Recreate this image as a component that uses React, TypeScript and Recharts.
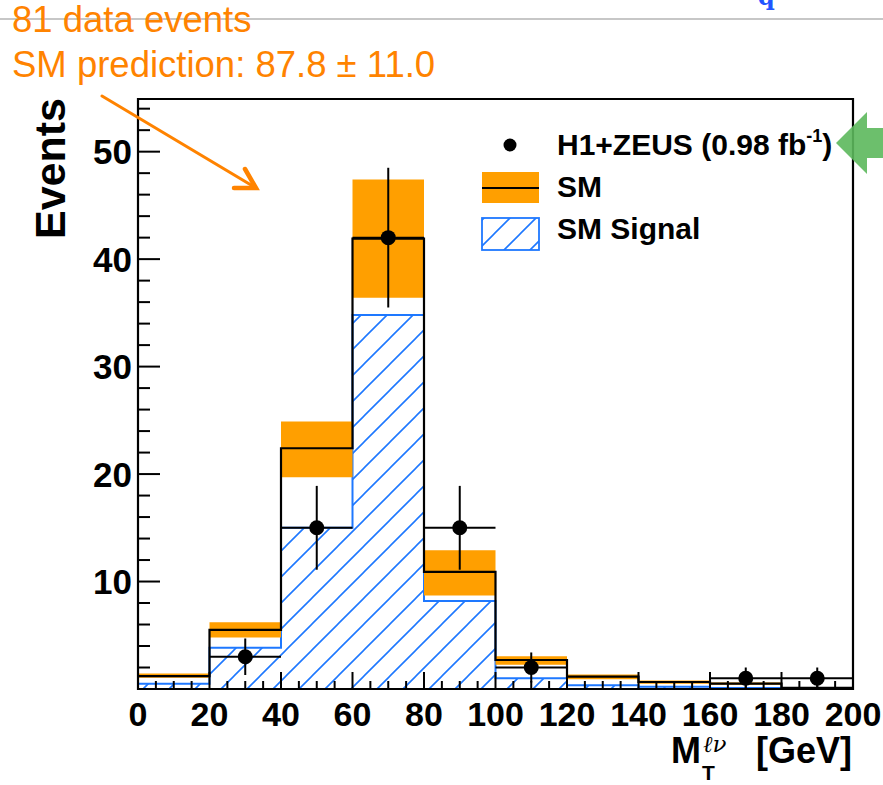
import React from 'react';
import {
  ComposedChart,
  Area,
  Line,
  Scatter,
  ErrorBar,
  XAxis,
  YAxis,
  ReferenceArea,
} from 'recharts';

// M_T(l nu) histogram, 20 GeV bins
const binEdges = [0, 20, 40, 60, 80, 100, 120, 140, 160, 180, 200];
const binCenters = [10, 30, 50, 70, 90, 110, 130, 150, 170, 190];
const smTotal = [1.2, 5.5, 22.4, 41.9, 10.9, 2.7, 1.15, 0.65, 0.5, 0.1];
const smBandLow = [1.05, 4.8, 19.7, 36.4, 8.7, 2.25, 0.9, 0.5, 0.4, 0.05];
const smBandHigh = [1.45, 6.2, 24.9, 47.4, 12.9, 3.05, 1.35, 0.8, 0.6, 0.15];
const smSignal = [0.5, 3.85, 15.0, 34.8, 8.2, 1.0, 0.35, 0.2, 0.1, 0.05];
const dataEvents = [0, 3, 15, 42, 15, 2, 0, 0, 1, 1];
const dataErr = [0, 1.7, 3.9, 6.5, 3.9, 1.4, 0, 0, 1.0, 1.0];
const binHalfWidth = 10;

const xMajorTicks = [0, 20, 40, 60, 80, 100, 120, 140, 160, 180, 200];
const xMinorTicks = [
  0, 5, 10, 15, 20, 25, 30, 35, 40, 45, 50, 55, 60, 65, 70, 75, 80, 85, 90, 95, 100,
  105, 110, 115, 120, 125, 130, 135, 140, 145, 150, 155, 160, 165, 170, 175, 180, 185,
  190, 195, 200,
];
const yMajorTicks = [10, 20, 30, 40, 50];
const yMinorTicks = [
  0, 2, 4, 6, 8, 10, 12, 14, 16, 18, 20, 22, 24, 26, 28, 30, 32, 34, 36, 38, 40, 42,
  44, 46, 48, 50, 52, 54,
];
const yMax = 54.9;

const ORANGE = '#ff9f00';
const BLUE = '#1e78ff';
const NOTE = '#ff8300';
const FONT = '"Liberation Sans", Arial, Helvetica, sans-serif';

// step rows: one per bin edge, last edge repeats the last bin
const stepRows = binEdges.map((x, i) => {
  const k = Math.min(i, smTotal.length - 1);
  return { x, sm: smTotal[k], band: [smBandLow[k], smBandHigh[k]], sig: smSignal[k] };
});

const points = binCenters
  .map((x, i) => ({ x, y: dataEvents[i], ey: dataErr[i], ex: binHalfWidth }))
  .filter((p) => p.y > 0);

const XTick = (props: any) => {
  const { x, y, payload } = props;
  const major = xMajorTicks.includes(payload.value);
  return (
    <g>
      <line x1={x} x2={x} y1={y} y2={y - (major ? 17 : 8)} stroke="#000" strokeWidth={2} />
      {major && (
        <text x={x} y={y + 37} textAnchor="middle" fontSize={34} fontWeight="bold" fontFamily={FONT} fill="#000">
          {payload.value}
        </text>
      )}
    </g>
  );
};

const YTick = (props: any) => {
  const { x, y, payload } = props;
  const major = yMajorTicks.includes(payload.value);
  return (
    <g>
      <line x1={x} x2={x + (major ? 22 : 12)} y1={y} y2={y} stroke="#000" strokeWidth={2} />
      {major && (
        <text x={x - 6} y={y} dy="0.36em" textAnchor="end" fontSize={35} fontWeight="bold" fontFamily={FONT} fill="#000">
          {payload.value}
        </text>
      )}
    </g>
  );
};

const Dot = (props: any) => <circle cx={props.cx} cy={props.cy} r={7.5} fill="#000" />;

export default function App() {
  return (
    <div style={{ position: 'absolute', left: 0, top: 0, width: 883, height: 785, background: '#fff', fontFamily: FONT }}>
      <svg width={0} height={0} style={{ position: 'absolute' }}>
        <defs>
          <pattern id="hatch" patternUnits="userSpaceOnUse" width={26} height={26}>
            <path d="M0,26 L26,0 M-6,6 L6,-6 M20,32 L32,20" stroke={BLUE} strokeWidth={1.6} />
          </pattern>
        </defs>
      </svg>

      <svg width={883} height={785} style={{ position: 'absolute', left: 0, top: 0 }}>
        <line x1={0} x2={883} y1={19} y2={19} stroke="#b5b5b5" strokeWidth={1.5} />
        <text x={758} y={5} fontSize={24} fontWeight="bold" fontFamily="'DejaVu Serif', serif" fill="#2255ff">q</text>
      </svg>

      <div style={{ position: 'absolute', left: 0, top: 0 }}>
        <ComposedChart width={883} height={785} margin={{ top: 99, right: 30, bottom: 36, left: 78 }}>
          <XAxis
            dataKey="x"
            type="number"
            domain={[0, 200]}
            ticks={xMinorTicks}
            interval={0}
            allowDataOverflow
            axisLine={false}
            tickLine={false}
            tickSize={0}
            tickMargin={0}
            height={60}
            tick={<XTick />}
          />
          <YAxis
            type="number"
            domain={[0, yMax]}
            ticks={yMinorTicks}
            interval={0}
            allowDataOverflow
            axisLine={false}
            tickLine={false}
            tickSize={0}
            tickMargin={0}
            width={60}
            tick={<YTick />}
          />
          <Area
            data={stepRows}
            dataKey="sig"
            type="stepAfter"
            fill="url(#hatch)"
            fillOpacity={1}
            stroke={BLUE}
            strokeWidth={2}
            isAnimationActive={false}
          />
          <Area
            data={stepRows}
            dataKey="band"
            type="stepAfter"
            fill={ORANGE}
            fillOpacity={1}
            stroke="none"
            isAnimationActive={false}
          />
          <Line
            data={stepRows}
            dataKey="sm"
            type="stepAfter"
            stroke="#000"
            strokeWidth={2.2}
            dot={false}
            isAnimationActive={false}
          />
          <Scatter data={points} dataKey="y" shape={<Dot />} isAnimationActive={false}>
            <ErrorBar dataKey="ey" direction="y" width={0} stroke="#000" strokeWidth={2} isAnimationActive={false} />
            <ErrorBar dataKey="ex" direction="x" width={0} stroke="#000" strokeWidth={2} isAnimationActive={false} />
          </Scatter>
          <ReferenceArea x1={0} x2={200} y1={0} y2={yMax} fill="none" stroke="#000" strokeWidth={2.2} ifOverflow="visible" />
        </ComposedChart>
      </div>

      <svg width={883} height={785} style={{ position: 'absolute', left: 0, top: 0, pointerEvents: 'none' }}>
        {/* annotations */}
        <text x={12} y={32} fontSize={36.5} fontFamily={FONT} fill={NOTE}>81 data events</text>
        <text x={12} y={77} fontSize={36.5} fontFamily={FONT} fill={NOTE}>SM prediction: 87.8 ± 11.0</text>
        <g stroke={NOTE} strokeWidth={3} strokeLinecap="round" fill="none">
          <line x1={102} y1={96} x2={256} y2={188} />
          <polyline points="245,169 256,188 234,188" strokeWidth={4.5} />
        </g>
        <polygon
          points="836,143 867,112 867,128 883,128 883,158 867,158 867,174"
          fill="#5cb85c"
          fillOpacity={0.9}
        />

        {/* legend */}
        <circle cx={510} cy={145} r={6.5} fill="#000" />
        <text x={557} y={155} fontSize={30} fontWeight="bold" fontFamily={FONT} fill="#000">
          H1+ZEUS (0.98 fb<tspan fontSize={18} dy={-13}>-1</tspan><tspan dy={13}>)</tspan>
        </text>
        <rect x={482} y={172} width={57} height={31} fill={ORANGE} />
        <line x1={482} x2={539} y1={188} y2={188} stroke="#000" strokeWidth={2} />
        <text x={557} y={197} fontSize={30} fontWeight="bold" fontFamily={FONT} fill="#000">SM</text>
        <rect x={482} y={218} width={57} height={32} fill="url(#hatch)" stroke={BLUE} strokeWidth={1.8} />
        <text x={557} y={239} fontSize={30} fontWeight="bold" fontFamily={FONT} fill="#000">SM Signal</text>

        {/* axis titles */}
        <text
          x={65}
          y={98}
          transform="rotate(-90, 65, 98)"
          textAnchor="end"
          fontSize={43}
          fontWeight="bold"
          fontFamily={FONT}
          fill="#000"
        >
          Events
        </text>
        <text x={671} y={763} fontSize={36} fontWeight="bold" fontFamily={FONT} fill="#000">M</text>
        <text x={702} y={780} fontSize={21} fontWeight="bold" fontFamily={FONT} fill="#000">T</text>
        <text x={703} y={752} fontSize={23} fontStyle="italic" fontFamily="'DejaVu Serif', serif" fill="#000">ℓν</text>
        <text x={852} y={763} textAnchor="end" fontSize={36} fontWeight="bold" fontFamily={FONT} fill="#000">[GeV]</text>
      </svg>
    </div>
  );
}
